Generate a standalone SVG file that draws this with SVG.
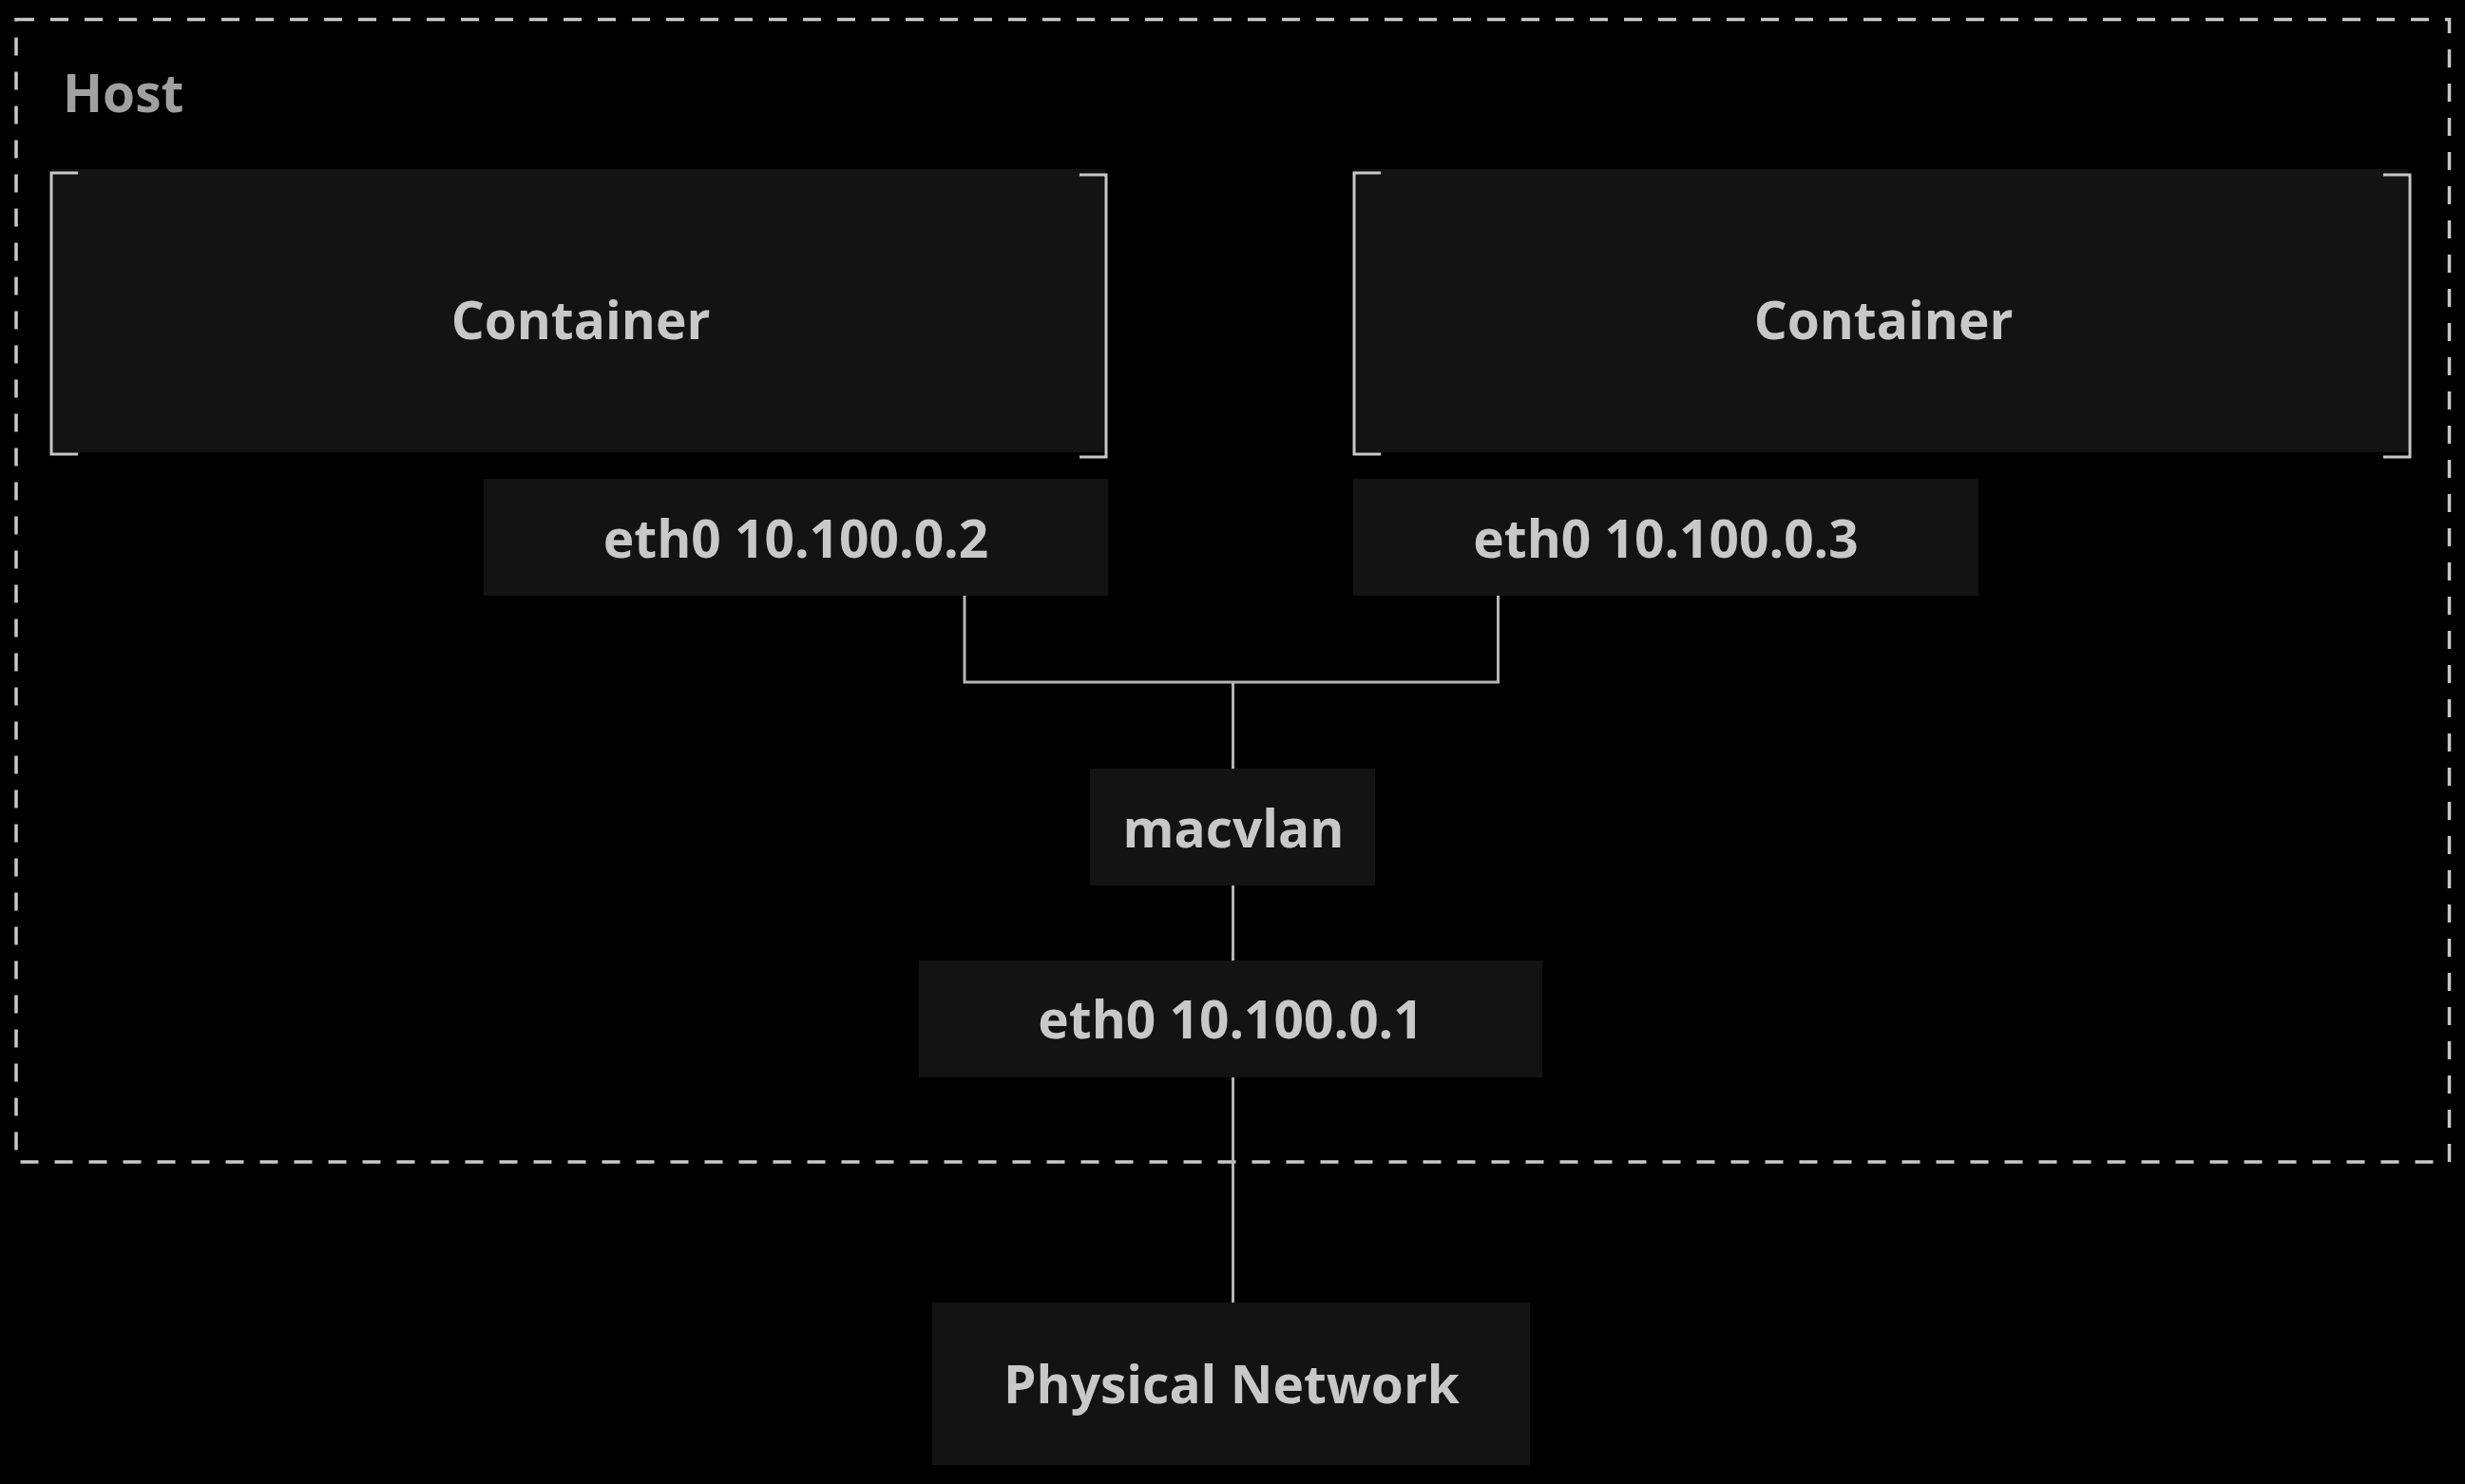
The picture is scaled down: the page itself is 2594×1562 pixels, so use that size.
<svg xmlns="http://www.w3.org/2000/svg" width="2594" height="1562" viewBox="0 0 2594 1562">
<style>
.box{fill:#131313}
.br{fill:none;stroke:#c8c8c8;stroke-width:3}
.lbl{font-family:"Open Sans","Noto Sans","DejaVu Sans",sans-serif;font-weight:700;font-size:55px;fill:#c8c8c8;text-anchor:middle}
.conn{fill:none;stroke:#b4b4b4;stroke-width:3}
</style>
<rect x="0" y="0" width="2594" height="1562" fill="#000"/>
<g id="host">
<rect x="17" y="20.5" width="2560.5" height="1202.5" fill="none" stroke="#c8c8c8" stroke-width="3.5" stroke-dasharray="19 17"/>
<text x="66" y="118" font-family="'Open Sans','Noto Sans','DejaVu Sans',sans-serif" font-weight="700" font-size="55" fill="#a0a0a0">Host</text>
</g>
<g id="connectors">
<path class="conn" d="M1015 627 V718 H1576.5 V627"/>
<path class="conn" d="M1297.5 718 V809"/>
<path class="conn" d="M1297.5 932 V1011"/>
<path class="conn" d="M1297.5 1134 V1371"/>
</g>
<g id="container1">
<rect class="box" x="54" y="178" width="1109" height="298"/>
<path class="br" d="M82 182 H54 V478 H82"/>
<path class="br" d="M1136 184 H1164 V481 H1136"/>
<text class="lbl" x="611" y="357">Container</text>
</g>
<g id="container2">
<rect class="box" x="1425" y="178" width="1109" height="298"/>
<path class="br" d="M1453 182 H1425 V478 H1453"/>
<path class="br" d="M2508 184 H2536 V481 H2508"/>
<text class="lbl" x="1982" y="357">Container</text>
</g>
<g id="eth0-2">
<rect class="box" x="509" y="504" width="657" height="123"/>
<text class="lbl" x="837.5" y="587">eth0 10.100.0.2</text>
</g>
<g id="eth0-3">
<rect class="box" x="1424" y="504" width="658" height="123"/>
<text class="lbl" x="1753" y="587">eth0 10.100.0.3</text>
</g>
<g id="macvlan">
<rect class="box" x="1147" y="809" width="300" height="123"/>
<text class="lbl" x="1298" y="892">macvlan</text>
</g>
<g id="eth0-1">
<rect class="box" x="967" y="1011" width="656" height="123"/>
<text class="lbl" x="1295" y="1093">eth0 10.100.0.1</text>
</g>
<g id="physical">
<rect class="box" x="981" y="1371" width="629" height="171"/>
<text class="lbl" x="1296" y="1477">Physical Network</text>
</g>
</svg>
